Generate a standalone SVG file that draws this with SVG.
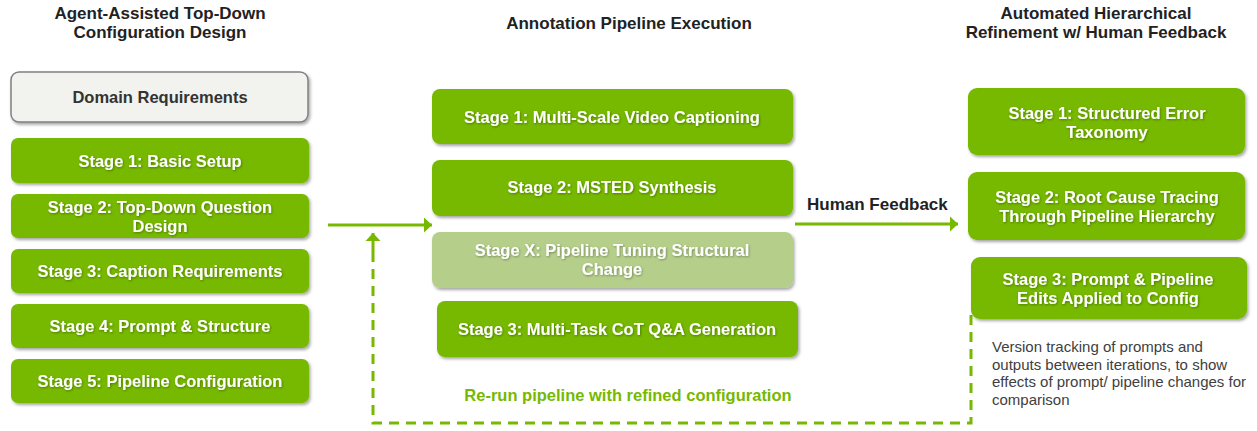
<svg xmlns="http://www.w3.org/2000/svg" width="1257" height="431" viewBox="0 0 1257 431">
<style>
.hdr{font-family:"Liberation Sans",Arial,sans-serif;font-weight:bold;font-size:17px;fill:#222;text-anchor:middle}
.box{fill:#76b900;filter:url(#sh)}
.boxx{fill:#b5cf8b;filter:url(#sh)}
.dom{fill:#f2f2ee;stroke:#808080;stroke-width:1.5;filter:url(#sh)}
.bt{font-family:"Liberation Sans",Arial,sans-serif;font-weight:bold;font-size:16.5px;fill:#fff;text-anchor:middle;filter:url(#ts)}
.dt{font-family:"Liberation Sans",Arial,sans-serif;font-weight:bold;font-size:16.5px;fill:#333;text-anchor:middle}
.lbl{font-family:"Liberation Sans",Arial,sans-serif;font-weight:bold;font-size:17px;fill:#222}
.grn{font-family:"Liberation Sans",Arial,sans-serif;font-weight:bold;font-size:16.5px;fill:#76b900;text-anchor:middle}
.cap{font-family:"Liberation Sans",Arial,sans-serif;font-size:15px;fill:#404040}
.ln{stroke:#76b900;stroke-width:3;fill:none}
.dash{stroke:#76b900;stroke-width:3;fill:none;stroke-dasharray:10 7}
</style>
<defs>
<filter id="sh" x="-5%" y="-15%" width="115%" height="140%">
<feDropShadow dx="1.5" dy="2" stdDeviation="1.5" flood-color="#000" flood-opacity="0.35"/>
</filter>
<filter id="ts" x="-5%" y="-20%" width="110%" height="150%">
<feDropShadow dx="0.8" dy="1" stdDeviation="0.8" flood-color="#000" flood-opacity="0.35"/>
</filter>
<marker id="ah" markerUnits="userSpaceOnUse" markerWidth="10" markerHeight="16" refX="8" refY="8" orient="auto">
<path d="M0,0.5 L8,8 L0,15.5 z" fill="#76b900"/>
</marker>
</defs>

<!-- Headers -->
<text class="hdr" x="160" y="19">Agent-Assisted Top-Down</text>
<text class="hdr" x="160" y="38">Configuration Design</text>
<text class="hdr" x="629" y="29">Annotation Pipeline Execution</text>
<text class="hdr" x="1096" y="19">Automated Hierarchical</text>
<text class="hdr" x="1096" y="38">Refinement w/ Human Feedback</text>

<!-- Connectors -->
<g id="connectors">
<line class="ln" x1="328" y1="225" x2="432" y2="225" marker-end="url(#ah)"/>
<line class="ln" x1="795" y1="224" x2="958" y2="224" marker-end="url(#ah)"/>
<path class="dash" d="M971,315 L971,423 L373,423 L373,252"/>
<line class="ln" x1="373" y1="252" x2="373" y2="233" marker-end="url(#ah)"/>
<text class="grn" x="628" y="401">Re-run pipeline with refined configuration</text>
<text class="lbl" x="807" y="210">Human Feedback</text>
</g>

<!-- Left column -->
<g id="domain">
<rect class="dom" x="11" y="72" width="297" height="50" rx="8"/>
<text class="dt" x="160" y="103">Domain Requirements</text>
</g>
<g id="l1">
<rect class="box" x="11" y="138" width="298" height="45" rx="7"/>
<text class="bt" x="160" y="167">Stage 1: Basic Setup</text>
</g>
<g id="l2">
<rect class="box" x="11" y="194" width="298" height="44" rx="7"/>
<text class="bt" x="160" y="213">Stage 2: Top-Down Question</text>
<text class="bt" x="160" y="232">Design</text>
</g>
<g id="l3">
<rect class="box" x="11" y="249" width="298" height="44" rx="7"/>
<text class="bt" x="160" y="277">Stage 3: Caption Requirements</text>
</g>
<g id="l4">
<rect class="box" x="11" y="304" width="298" height="44" rx="7"/>
<text class="bt" x="160" y="332">Stage 4: Prompt &amp; Structure</text>
</g>
<g id="l5">
<rect class="box" x="11" y="359" width="298" height="44" rx="7"/>
<text class="bt" x="160" y="387">Stage 5: Pipeline Configuration</text>
</g>

<!-- Middle column -->
<g id="m1">
<rect class="box" x="432" y="89" width="361" height="55" rx="8"/>
<text class="bt" x="612" y="123">Stage 1: Multi-Scale Video Captioning</text>
</g>
<g id="m2">
<rect class="box" x="432" y="160" width="361" height="56" rx="8"/>
<text class="bt" x="612" y="193">Stage 2: MSTED Synthesis</text>
</g>
<g id="mx">
<rect class="boxx" x="432" y="232" width="361" height="56" rx="8"/>
<text class="bt" x="612" y="256">Stage X: Pipeline Tuning Structural</text>
<text class="bt" x="612" y="275">Change</text>
</g>
<g id="m3">
<rect class="box" x="437" y="301" width="361" height="56" rx="8"/>
<text class="bt" x="617" y="335">Stage 3: Multi-Task CoT Q&amp;A Generation</text>
</g>

<!-- Right column -->
<g id="r1">
<rect class="box" x="968" y="88" width="277" height="67" rx="9"/>
<text class="bt" x="1107" y="119">Stage 1: Structured Error</text>
<text class="bt" x="1107" y="138">Taxonomy</text>
</g>
<g id="r2">
<rect class="box" x="968" y="172" width="277" height="68" rx="9"/>
<text class="bt" x="1107" y="203">Stage 2: Root Cause Tracing</text>
<text class="bt" x="1107" y="222">Through Pipeline Hierarchy</text>
</g>
<g id="r3">
<rect class="box" x="971" y="257" width="276" height="62" rx="9"/>
<text class="bt" x="1108" y="285">Stage 3: Prompt &amp; Pipeline</text>
<text class="bt" x="1108" y="304">Edits Applied to Config</text>
</g>

<g id="caption">
<text class="cap" x="992" y="352">Version tracking of prompts and</text>
<text class="cap" x="992" y="370">outputs between iterations, to show</text>
<text class="cap" x="992" y="387">effects of prompt/ pipeline changes for</text>
<text class="cap" x="992" y="405">comparison</text>
</g>
</svg>
